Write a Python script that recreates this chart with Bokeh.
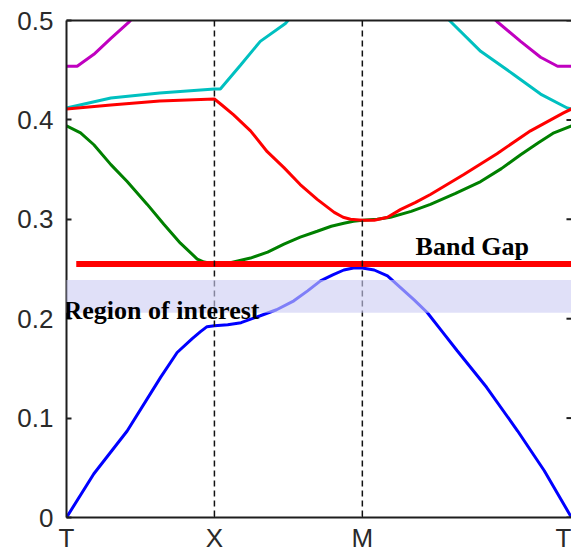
import numpy as np
from bokeh.plotting import figure
from bokeh.models import Range1d, FixedTicker, LinearAxis, Span, BoxAnnotation, Label
from bokeh.embed import file_html
from bokeh.resources import INLINE

# Path through the Brillouin zone: Γ - X - M - Γ (|Γ-X| = |X-M| = 1, |M-Γ| = sqrt 2)
K_TICKS = [0.0, 1.0, 2.0, 3.414]
K_LABELS = ["T", "X", "M", "T"]

Y_TICKS = [0.0, 0.1, 0.2, 0.3, 0.4, 0.5]
Y_LABELS = ["0", "0.1", "0.2", "0.3", "0.4", "0.5"]

# Normalised frequency of each band along the path
band1_k = [0.0, 0.185, 0.41, 0.636, 0.748, 0.85, 0.906, 0.95, 1.0, 1.09, 1.18, 1.31, 1.42,
           1.537, 1.63, 1.717, 1.8, 1.875, 1.94, 2.0, 2.08, 2.17, 2.26, 2.35, 2.44, 2.54,
           2.64, 2.84, 3.05, 3.23, 3.414]
band1_f = [0.0, 0.044, 0.087, 0.141, 0.166, 0.180, 0.187, 0.192, 0.193, 0.194, 0.196, 0.203, 0.209,
           0.218, 0.228, 0.238, 0.244, 0.249, 0.251, 0.251, 0.249, 0.243, 0.231, 0.219, 0.206, 0.187,
           0.168, 0.131, 0.087, 0.047, 0.0]

band2_k = [0.0, 0.095, 0.185, 0.30, 0.41, 0.546, 0.658, 0.77, 0.884, 0.93, 1.0,
           1.1, 1.244, 1.36, 1.47, 1.58, 1.695, 1.79, 1.875, 1.94, 2.0, 2.1, 2.19, 2.33,
           2.46, 2.63, 2.80, 2.94, 3.07, 3.19, 3.295, 3.414]
band2_f = [0.394, 0.387, 0.375, 0.355, 0.338, 0.315, 0.295, 0.276, 0.260, 0.257, 0.255,
           0.256, 0.261, 0.267, 0.275, 0.282, 0.288, 0.293, 0.296, 0.298, 0.299, 0.300, 0.302, 0.308,
           0.315, 0.326, 0.338, 0.351, 0.365, 0.377, 0.387, 0.394]

band3_k = [0.0, 0.30, 0.63, 1.0, 1.05, 1.13, 1.244, 1.357, 1.47, 1.58, 1.695, 1.81, 1.87, 1.92,
           2.0, 2.08, 2.17, 2.26, 2.36, 2.46, 2.686, 2.91, 3.137, 3.36, 3.414]
band3_f = [0.411, 0.415, 0.419, 0.421, 0.415, 0.405, 0.389, 0.368, 0.352, 0.335, 0.320, 0.307, 0.302, 0.300,
           0.299, 0.299, 0.302, 0.310, 0.317, 0.325, 0.345, 0.366, 0.389, 0.407, 0.411]

band4_k = [0.0, 0.30, 0.63, 1.0, 1.04, 1.176, 1.31, 1.48, 1.52, np.nan,
           2.57, 2.596, 2.80, 3.02, 3.205, 3.385, 3.414]
band4_f = [0.412, 0.422, 0.427, 0.431, 0.431, 0.455, 0.479, 0.497, 0.504, np.nan,
           0.503, 0.499, 0.469, 0.446, 0.426, 0.412, 0.411]

band5_k = [0.0, 0.072, 0.185, 0.30, 0.42, 0.45, np.nan,
           2.88, 2.91, 3.07, 3.205, 3.32, 3.414]
band5_f = [0.454, 0.454, 0.466, 0.482, 0.498, 0.503, np.nan,
           0.503, 0.499, 0.479, 0.463, 0.454, 0.454]

BAND_GAP = 0.255
BAND_GAP_START = 0.066
ROI_LOW, ROI_HIGH = 0.206, 0.239

p = figure(width=571, height=555, output_backend="svg", toolbar_location=None,
           x_range=Range1d(0, 3.414), y_range=Range1d(0, 0.5),
           min_border_left=66, min_border_right=0, min_border_top=20, min_border_bottom=38)
p.outline_line_color = None
p.grid.visible = False
p.background_fill_color = "white"
p.border_fill_color = "white"

AXIS_COLOR = "#1e1e1e"
LABEL_COLOR = "#2a2a2a"

# left axis with labels
ya = p.yaxis[0]
ya.ticker = FixedTicker(ticks=Y_TICKS)
ya.major_label_overrides = {t: s for t, s in zip(Y_TICKS, Y_LABELS)}
ya.major_label_text_font = "Liberation Sans"
ya.major_label_text_font_size = "26px"
ya.major_label_text_color = LABEL_COLOR
ya.major_label_standoff = 13
ya.major_tick_in = 5
ya.major_tick_out = 0
ya.minor_tick_line_color = None
ya.axis_line_width = 2
ya.axis_line_color = AXIS_COLOR
ya.major_tick_line_color = AXIS_COLOR
ya.major_tick_line_width = 2

# bottom axis with the symmetry point names
xa = p.xaxis[0]
xa.ticker = FixedTicker(ticks=K_TICKS)
xa.major_label_overrides = {k: s for k, s in zip(K_TICKS, K_LABELS)}
xa.major_label_text_font = "Liberation Sans"
xa.major_label_text_font_size = "26px"
xa.major_label_text_color = LABEL_COLOR
xa.major_label_standoff = 5
xa.major_tick_in = 5
xa.major_tick_out = 0
xa.minor_tick_line_color = None
xa.axis_line_width = 2
xa.axis_line_color = AXIS_COLOR
xa.major_tick_line_color = AXIS_COLOR

# top edge of the box
top = LinearAxis(ticker=FixedTicker(ticks=[]), major_label_standoff=0,
                 major_tick_in=0, major_tick_out=0, minor_tick_line_color=None,
                 axis_line_width=2, axis_line_color=AXIS_COLOR)
p.add_layout(top, "above")

# photonic bands
p.line(band5_k, band5_f, line_color="#c000c0", line_width=3)
p.line(band4_k, band4_f, line_color="#00c0c0", line_width=3)
p.line(band2_k, band2_f, line_color="#008000", line_width=3)
p.line(band3_k, band3_f, line_color="#ff0000", line_width=3)
p.line(band1_k, band1_f, line_color="#0000ff", line_width=3)

# inward ticks on the right edge
p.segment(x0=[K_TICKS[-1] - 0.034] * len(Y_TICKS), y0=Y_TICKS,
          x1=[K_TICKS[-1]] * len(Y_TICKS), y1=Y_TICKS,
          line_color=AXIS_COLOR, line_width=2)

# band gap edge
p.segment(x0=[BAND_GAP_START], y0=[BAND_GAP], x1=[K_TICKS[-1]], y1=[BAND_GAP],
          line_color="#ff0000", line_width=6)

# symmetry-point markers
for k in K_TICKS[1:3]:
    p.add_layout(Span(location=k, dimension="height", line_color="#111111",
                      line_width=1.5, line_dash="6 4"))

# shaded region of interest
p.add_layout(BoxAnnotation(left=-0.05, right=K_TICKS[-1], bottom=ROI_LOW, top=ROI_HIGH,
                           fill_color="#cdcdf4", fill_alpha=0.62, line_color=None,
                           level="overlay"))

p.add_layout(Label(x=2.36, y=0.2726, text="Band Gap", text_font="Liberation Serif",
                   text_font_style="bold", text_font_size="26px", text_color="black",
                   text_baseline="alphabetic", level="overlay"))
p.add_layout(Label(x=-0.02, y=0.208, text="Region of interest", text_font="Liberation Serif",
                   text_font_style="bold", text_font_size="26px", text_color="black",
                   text_baseline="alphabetic", level="overlay"))

open("out.html", "w").write(file_html(p, INLINE))
